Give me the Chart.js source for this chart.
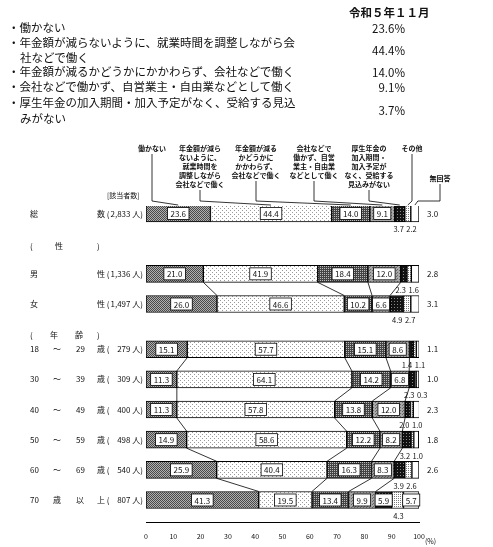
<!DOCTYPE html>
<html>
<head>
<meta charset="utf-8">
<script src="https://cdn.jsdelivr.net/npm/chart.js@4/dist/chart.umd.min.js"></script>
<style>
  body { margin: 0; background: #fff; font-family: "Noto Sans CJK JP", sans-serif; }
  #wrap { position: relative; width: 493px; height: 547px; }
  #chart { position: absolute; left: 0; top: 0; }
  .t { position: absolute; font-size: 11.5px; color: #111; white-space: nowrap; line-height: 15px; }
  .p { position: absolute; font-size: 11.5px; color: #111; text-align: right; width: 60px; font-family: "Noto Sans CJK JP", sans-serif; }
</style>
</head>
<body>
<div id="wrap">
  <canvas id="chart" width="493" height="547"></canvas>
  <div class="t" style="left:349px;top:5px;font-weight:bold;">令和５年１１月</div>
  <div class="t" style="left:8px;top:20px;">・働かない</div>
  <div class="t" style="left:8px;top:35px;">・年金額が減らないように、就業時間を調整しながら会</div>
  <div class="t" style="left:20px;top:50px;">社などで働く</div>
  <div class="t" style="left:8px;top:64px;">・年金額が減るかどうかにかかわらず、会社などで働く</div>
  <div class="t" style="left:8px;top:79px;">・会社などで働かず、自営業主・自由業などとして働く</div>
  <div class="t" style="left:8px;top:95px;">・厚生年金の加入期間・加入予定がなく、受給する見込</div>
  <div class="t" style="left:20px;top:111px;">みがない</div>
  <div class="p" style="left:345px;top:20px;">23.6%</div>
  <div class="p" style="left:345px;top:42px;">44.4%</div>
  <div class="p" style="left:345px;top:64px;">14.0%</div>
  <div class="p" style="left:345px;top:79px;">9.1%</div>
  <div class="p" style="left:345px;top:102px;">3.7%</div>
</div>
<script>
// rows of the chart
const rows = ['総数', '男性', '女性', '18～29歳', '30～39歳', '40～49歳', '50～59歳', '60～69歳', '70歳以上'];
const counts = ['2,833', '1,336', '1,497', '279', '309', '400', '498', '540', '807'];
const rowSlots = [0, 4, 6, 9, 11, 13, 15, 17, 19]; // which category slot each row sits in
const slotCount = 21;

const seriesNames = [
  '働かない',
  '年金額が減らないように、就業時間を調整しながら会社などで働く',
  '年金額が減るかどうかにかかわらず、会社などで働く',
  '会社などで働かず、自営業主・自由業などとして働く',
  '厚生年金の加入期間・加入予定がなく、受給する見込みがない',
  'その他',
  '無回答'
];
const notWorking   = [23.6, 21.0, 26.0, 15.1, 11.3, 11.3, 14.9, 25.9, 41.3];
const adjustHours  = [44.4, 41.9, 46.6, 57.7, 64.1, 57.8, 58.6, 40.4, 19.5];
const workAnyway   = [14.0, 18.4, 10.2, 15.1, 14.2, 13.8, 12.2, 16.3, 13.4];
const selfEmployed = [9.1, 12.0, 6.6, 8.6, 6.8, 12.0, 8.2, 8.3, 9.9];
const noPension    = [3.7, 2.3, 4.9, 1.4, 2.3, 2.0, 3.2, 3.9, 5.9];
const other        = [2.2, 1.6, 2.7, 1.1, 0.3, 1.0, 1.0, 2.6, 4.3];
const noAnswer     = [3.0, 2.8, 3.1, 1.1, 1.0, 2.3, 1.8, 2.6, 5.7];
const allSeries = [notWorking, adjustHours, workAnyway, selfEmployed, noPension, other, noAnswer];

// header labels above the chart (multi-line)
const headLines = [
  ['働かない'],
  ['年金額が減ら', 'ないように、', '就業時間を', '調整しながら', '会社などで働く'],
  ['年金額が減る', 'かどうかに', 'かかわらず、', '会社などで働く'],
  ['会社などで', '働かず、自営', '業主・自由業', 'などとして働く'],
  ['厚生年金の', '加入期間・', '加入予定が', 'なく、受給する', '見込みがない'],
  ['その他'],
  ['無回答']
];
const headX = [152, 200, 256, 314, 369, 412, 440];

// left side texts
const leftParts = [
  ['総', '', '', '数 ('],
  ['男', '', '', '性 ('],
  ['女', '', '', '性 ('],
  ['18', '～', '29', '歳 ('],
  ['30', '～', '39', '歳 ('],
  ['40', '～', '49', '歳 ('],
  ['50', '～', '59', '歳 ('],
  ['60', '～', '69', '歳 ('],
  ['70', '歳', '以', '上 (']
];

function makePattern(bg, fg, size, dots) {
  const c = document.createElement('canvas');
  c.width = size; c.height = size;
  const g = c.getContext('2d');
  g.fillStyle = bg; g.fillRect(0, 0, size, size);
  g.fillStyle = fg;
  dots.forEach(d => g.fillRect(d[0], d[1], 1, 1));
  return g.createPattern(c, 'repeat');
}

const ctx = document.getElementById('chart').getContext('2d');
const fills = [
  makePattern('#b0b0b0', '#4a4a4a', 2, [[0, 0], [1, 1]]),
  makePattern('#fff', '#999', 4, [[0, 0], [2, 2]]),
  makePattern('#444', '#bbb', 2, [[0, 0]]),
  makePattern('#a8a8a8', '#666', 3, [[0, 0], [1, 2]]),
  makePattern('#111', '#888', 3, [[1, 1]]),
  makePattern('#fff', '#777', 2, [[0, 0]]),
  '#fff'
];

const labels = [];
for (let i = 0; i < slotCount; i++) labels.push('');
rowSlots.forEach((s, r) => labels[s] = rows[r]);

const datasets = allSeries.map((vals, k) => {
  const data = new Array(slotCount).fill(null);
  rowSlots.forEach((s, r) => data[s] = vals[r]);
  return {
    label: seriesNames[k], data: data,
    backgroundColor: fills[k], borderColor: '#000', borderWidth: 1, borderSkipped: false,
    barThickness: 17
  };
});

const FONT = '"Noto Sans CJK JP", sans-serif';

const drawPlugin = {
  id: 'drawPlugin',
  afterDatasetsDraw(chart) {
    const c = chart.ctx;
    const xs = chart.scales.x;
    const metas = chart.data.datasets.map((d, i) => chart.getDatasetMeta(i));
    const el = (k, r) => metas[k].data[rowSlots[r]];
    c.save();
    c.strokeStyle = '#000';
    c.lineWidth = 0.8;

    // connecting lines between neighbouring rows
    const pairs = [[1, 2], [3, 4], [4, 5], [5, 6], [6, 7], [7, 8]];
    pairs.forEach(([a, b]) => {
      for (let k = 0; k < 4; k++) {
        const ea = el(k, a), eb = el(k, b);
        c.beginPath();
        c.moveTo(ea.x, ea.y + 8.5);
        c.lineTo(eb.x, eb.y - 8.5);
        c.stroke();
      }
    });

    // value labels
    c.textBaseline = 'middle';
    rows.forEach((name, r) => {
      for (let k = 0; k < 7; k++) {
        const e = el(k, r);
        const v = allSeries[k][r];
        const txt = v.toFixed(1);
        const cx = (e.x + e.base) / 2;
        if (k < 4 || v >= 5) {
          c.font = '8px ' + FONT;
          const w = c.measureText(txt).width + 6;
          c.fillStyle = '#fff';
          c.fillRect(cx - w / 2, e.y - 6, w, 12);
          c.strokeRect(cx - w / 2, e.y - 6, w, 12);
          c.fillStyle = '#111';
          c.textAlign = 'center';
          c.fillText(txt, cx, e.y + 0.5);
        } else if (k === 6) {
          c.font = '8px ' + FONT;
          c.fillStyle = '#111';
          c.textAlign = 'left';
          c.fillText(txt, xs.right + 8, e.y);
        } else {
          c.font = '7.5px ' + FONT;
          c.fillStyle = '#111';
          const b = el(4, r).x;
          if (k === 4) { c.textAlign = 'right'; c.fillText(txt, b - 1, e.y + 16); }
          else { c.textAlign = 'left'; c.fillText(txt, b + 1.5, e.y + 16); }
        }
      }
    });

    // left texts
    c.font = '8px ' + FONT;
    c.fillStyle = '#111';
    const colX = [30, 53, 76, 97];
    rows.forEach((name, r) => {
      const y = el(0, r).y;
      c.textAlign = 'left';
      leftParts[r].forEach((p, i) => { if (p) c.fillText(p, colX[i], y); });
      c.textAlign = 'right';
      c.fillText(counts[r] + ' 人)', 143, y);
    });
    c.textAlign = 'left';
    c.fillText('(', 30, 246); c.fillText('性', 55, 246); c.fillText(')', 97, 246);
    c.fillText('(', 30, 335); c.fillText('年', 50, 335); c.fillText('齢', 75, 335); c.fillText(')', 97, 335);
    c.font = '7px ' + FONT;
    c.fillText('[該当者数]', 107, 195);
    c.fillText('(%)', 425, 541);

    // header labels with leader lines
    const top = el(0, 0).y - 8.5;
    c.font = 'bold 7px ' + FONT;
    c.textAlign = 'center';
    headLines.forEach((lines, k) => {
      const y0 = k === 6 ? 178 : 148;
      lines.forEach((l, i) => c.fillText(l, headX[k], y0 + i * 9));
      const e = el(k, 0);
      const tx = (e.x + e.base) / 2;
      const ly = y0 + (lines.length - 1) * 9 + 6;
      c.beginPath();
      if (k === 6) {
        c.moveTo(headX[k], ly); c.lineTo(headX[k], 201); c.lineTo(tx + 3, 201); c.lineTo(tx, top);
      } else {
        c.moveTo(headX[k], ly); c.lineTo(headX[k], 201); c.lineTo(tx, top);
      }
      c.stroke();
    });
    c.restore();
  }
};

new Chart(ctx, {
  type: 'bar',
  data: { labels: labels, datasets: datasets },
  options: {
    indexAxis: 'y',
    responsive: false,
    animation: false,
    layout: { padding: { left: 146, right: 74, top: 206, bottom: 4 } },
    plugins: { legend: { display: false }, tooltip: { enabled: false } },
    scales: {
      x: {
        stacked: true, min: 0, max: 100,
        ticks: { stepSize: 10, font: { size: 7, family: FONT }, color: '#111', padding: 2 },
        grid: { display: false, drawTicks: true },
        border: { color: '#000' }
      },
      y: {
        stacked: true, display: false
      }
    }
  },
  plugins: [drawPlugin]
});
</script>
</body>
</html>
